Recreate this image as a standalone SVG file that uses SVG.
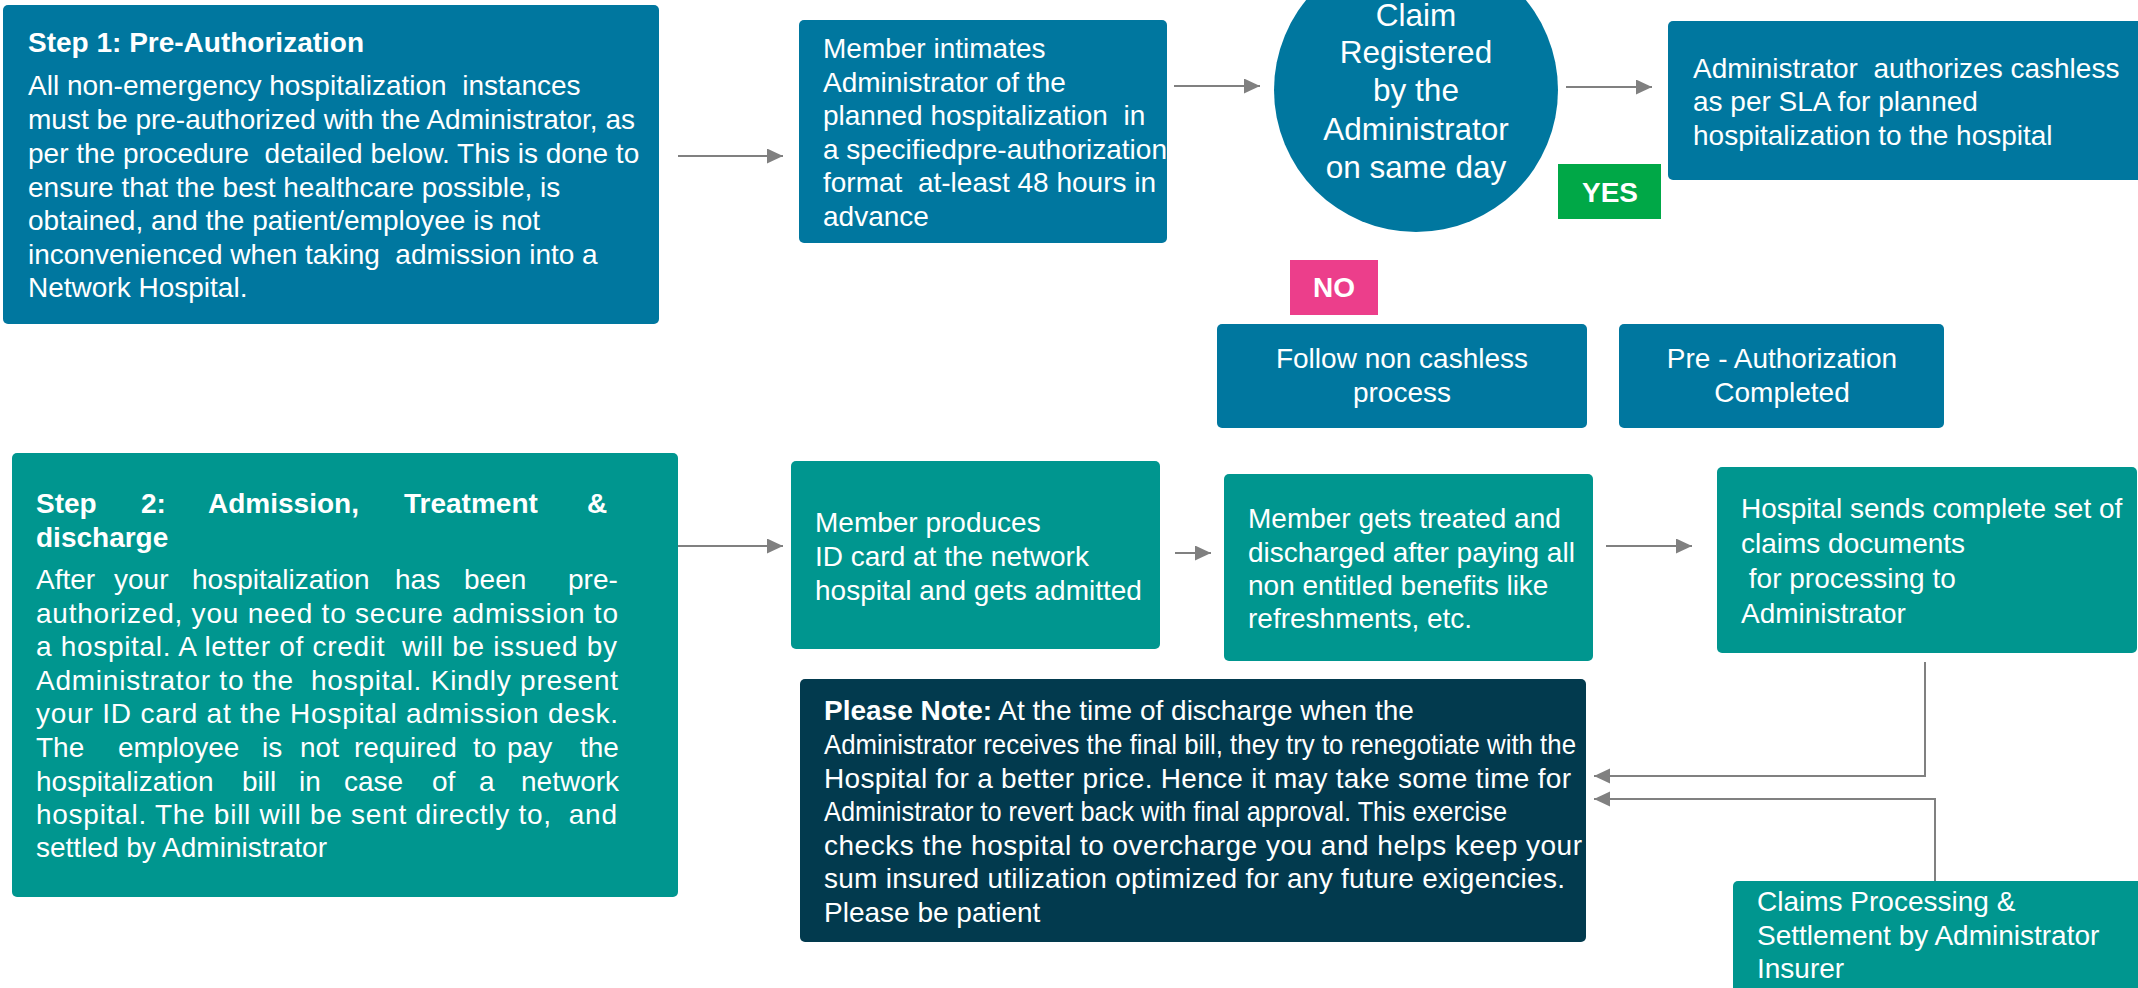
<svg xmlns="http://www.w3.org/2000/svg" width="2138" height="988" viewBox="0 0 2138 988">
  <style>
    .t { font-family: "Liberation Sans", Arial, sans-serif; font-size: 28px; fill: #ffffff; white-space: pre; }
    .b { font-weight: bold; }
    .mid { text-anchor: middle; }
    .blue { fill: #00779F; }
    .teal { fill: #00968F; }
    .navy { fill: #023A4E; }
    .conn { fill: none; stroke: #808080; stroke-width: 2; marker-end: url(#arrow); }
  </style>
  <defs>
    <marker id="arrow" markerUnits="userSpaceOnUse" markerWidth="17" markerHeight="16" refX="16" refY="7.5" orient="auto">
      <path d="M0,0 L16,7.5 L0,15 z" fill="#808080"/>
    </marker>
  </defs>

  <rect width="2138" height="988" fill="#ffffff"/>

  <!-- connectors -->
  <g id="connectors">
    <line class="conn" x1="678" y1="156" x2="783" y2="156"/>
    <line class="conn" x1="1174" y1="86" x2="1260" y2="86"/>
    <line class="conn" x1="1566" y1="87" x2="1652" y2="87"/>
    <line class="conn" x1="678" y1="546" x2="783" y2="546"/>
    <line class="conn" x1="1175" y1="553" x2="1211" y2="553"/>
    <line class="conn" x1="1606" y1="546" x2="1692" y2="546"/>
    <polyline class="conn" points="1925,662 1925,776 1594,776"/>
    <polyline class="conn" points="1935,881 1935,799 1594,799"/>
  </g>

  <!-- Step 1 -->
  <g id="step1">
    <rect class="blue" x="3" y="5" width="656" height="319" rx="5"/>
    <text class="t b" x="28" y="52">Step 1: Pre-Authorization</text>
    <text class="t" x="28" y="95">All non-emergency hospitalization  instances</text>
    <text class="t" x="28" y="129">must be pre-authorized with the Administrator, as</text>
    <text class="t" x="28" y="163">per the procedure  detailed below. This is done to</text>
    <text class="t" x="28" y="197">ensure that the best healthcare possible, is</text>
    <text class="t" x="28" y="230">obtained, and the patient/employee is not</text>
    <text class="t" x="28" y="264">inconvenienced when taking  admission into a</text>
    <text class="t" x="28" y="297">Network Hospital.</text>
  </g>

  <!-- Member intimates -->
  <g id="intimate">
    <rect class="blue" x="799" y="20" width="368" height="223" rx="5"/>
    <text class="t" x="823" y="58">Member intimates</text>
    <text class="t" x="823" y="92">Administrator of the</text>
    <text class="t" x="823" y="125">planned hospitalization  in</text>
    <text class="t" x="823" y="159">a specifiedpre-authorization</text>
    <text class="t" x="823" y="192">format  at-least 48 hours in</text>
    <text class="t" x="823" y="226">advance</text>
  </g>

  <!-- Claim registered decision -->
  <g id="registered">
    <circle class="blue" cx="1416" cy="90" r="142"/>
    <g class="t mid" style="font-size:31.5px">
      <text x="1416" y="26">Claim</text>
      <text x="1416" y="63">Registered</text>
      <text x="1416" y="101"> by the</text>
      <text x="1416" y="140">Administrator</text>
      <text x="1416" y="178">on same day</text>
    </g>
  </g>

  <!-- Cashless authorization -->
  <g id="authorize">
    <rect class="blue" x="1668" y="21" width="476" height="159" rx="5"/>
    <text class="t" x="1693" y="78">Administrator  authorizes cashless</text>
    <text class="t" x="1693" y="111">as per SLA for planned</text>
    <text class="t" x="1693" y="145">hospitalization to the hospital</text>
  </g>

  <!-- YES label -->
  <g id="yes">
    <rect x="1558" y="164" width="103" height="55" fill="#00A847"/>
    <text class="t b mid" x="1610" y="202">YES</text>
  </g>

  <!-- NO label -->
  <g id="no">
    <rect x="1290" y="260" width="88" height="55" fill="#EC3E8B"/>
    <text class="t b mid" x="1334" y="297">NO</text>
  </g>

  <!-- Non cashless -->
  <g id="noncashless">
    <rect class="blue" x="1217" y="324" width="370" height="104" rx="5"/>
    <text class="t mid" x="1402" y="368">Follow non cashless</text>
    <text class="t mid" x="1402" y="402">process</text>
  </g>

  <!-- Pre-authorization completed -->
  <g id="completed">
    <rect class="blue" x="1619" y="324" width="325" height="104" rx="5"/>
    <text class="t mid" x="1782" y="368">Pre - Authorization</text>
    <text class="t mid" x="1782" y="402">Completed</text>
  </g>

  <!-- Step 2 -->
  <g id="step2">
    <rect class="teal" x="12" y="453" width="666" height="444" rx="5"/>
    <text class="t b" y="513"><tspan x="36">Step</tspan><tspan x="141">2:</tspan><tspan x="208">Admission,</tspan><tspan x="404">Treatment</tspan><tspan x="587">&amp;</tspan></text>
    <text class="t b" x="36" y="547">discharge</text>
    <text class="t" y="589"><tspan x="36">After</tspan><tspan x="114">your</tspan><tspan x="192">hospitalization</tspan><tspan x="395">has</tspan><tspan x="464">been</tspan><tspan x="568">pre-</tspan></text>
    <text class="t" x="36" y="623" textLength="582" lengthAdjust="spacing">authorized, you need to secure admission to</text>
    <text class="t" x="36" y="656" textLength="581" lengthAdjust="spacing">a hospital. A letter of credit  will be issued by</text>
    <text class="t" x="36" y="690" textLength="582" lengthAdjust="spacing">Administrator to the  hospital. Kindly present</text>
    <text class="t" x="36" y="723" textLength="582" lengthAdjust="spacing">your ID card at the Hospital admission desk.</text>
    <text class="t" y="757"><tspan x="36">The</tspan><tspan x="118">employee</tspan><tspan x="262">is</tspan><tspan x="300">not</tspan><tspan x="354">required</tspan><tspan x="473">to</tspan><tspan x="507">pay</tspan><tspan x="580">the</tspan></text>
    <text class="t" y="791"><tspan x="36">hospitalization</tspan><tspan x="242">bill</tspan><tspan x="299">in</tspan><tspan x="344">case</tspan><tspan x="432">of</tspan><tspan x="479">a</tspan><tspan x="521">network</tspan></text>
    <text class="t" x="36" y="824" textLength="581" lengthAdjust="spacing">hospital. The bill will be sent directly to,  and</text>
    <text class="t" x="36" y="857">settled by Administrator</text>
  </g>

  <!-- Member produces ID -->
  <g id="admitted">
    <rect class="teal" x="791" y="461" width="369" height="188" rx="5"/>
    <text class="t" x="815" y="532">Member produces</text>
    <text class="t" x="815" y="566">ID card at the network</text>
    <text class="t" x="815" y="600">hospital and gets admitted</text>
  </g>

  <!-- Treated and discharged -->
  <g id="treated">
    <rect class="teal" x="1224" y="474" width="369" height="187" rx="5"/>
    <text class="t" x="1248" y="528">Member gets treated and</text>
    <text class="t" x="1248" y="562">discharged after paying all</text>
    <text class="t" x="1248" y="595">non entitled benefits like</text>
    <text class="t" x="1248" y="628">refreshments, etc.</text>
  </g>

  <!-- Hospital sends documents -->
  <g id="documents">
    <rect class="teal" x="1717" y="467" width="420" height="186" rx="5"/>
    <text class="t" x="1741" y="518">Hospital sends complete set of</text>
    <text class="t" x="1741" y="553">claims documents</text>
    <text class="t" x="1741" y="588"> for processing to</text>
    <text class="t" x="1741" y="623">Administrator</text>
  </g>

  <!-- Please note -->
  <g id="note">
    <rect class="navy" x="800" y="679" width="786" height="263" rx="5"/>
    <text class="t" x="824" y="720"><tspan class="b">Please Note:</tspan> At the time of discharge when the</text>
    <text class="t" x="824" y="754" textLength="752" lengthAdjust="spacingAndGlyphs">Administrator receives the final bill, they try to renegotiate with the</text>
    <text class="t" x="824" y="788" textLength="747" lengthAdjust="spacing">Hospital for a better price. Hence it may take some time for</text>
    <text class="t" x="824" y="821" textLength="683" lengthAdjust="spacingAndGlyphs">Administrator to revert back with final approval. This exercise</text>
    <text class="t" x="824" y="855" textLength="758" lengthAdjust="spacing">checks the hospital to overcharge you and helps keep your</text>
    <text class="t" x="824" y="888" textLength="741" lengthAdjust="spacing">sum insured utilization optimized for any future exigencies.</text>
    <text class="t" x="824" y="922">Please be patient</text>
  </g>

  <!-- Claims processing -->
  <g id="settlement">
    <rect class="teal" x="1733" y="881" width="410" height="120" rx="5"/>
    <text class="t" x="1757" y="911">Claims Processing &amp;</text>
    <text class="t" x="1757" y="945">Settlement by Administrator</text>
    <text class="t" x="1757" y="978">Insurer</text>
  </g>
</svg>
